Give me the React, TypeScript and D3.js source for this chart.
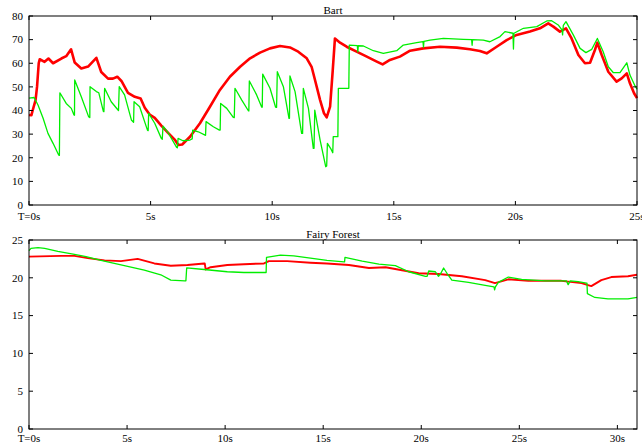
import { scaleLinear, line } from 'd3'

// [seconds, value] pairs
const bartRed: [number, number][] = [
  [0, 38.1], [0.1, 38], [0.15, 40], [0.27, 44.4], [0.33, 50], [0.4, 60], [0.44, 61.7],
  [0.64, 60.6], [0.8, 62], [0.99, 60], [1.33, 62], [1.53, 63], [1.73, 65.9], [1.88, 60.3],
  [2.15, 57.8], [2.43, 58.6], [2.77, 62.3], [2.97, 56.3], [3.25, 53.5], [3.45, 53.5],
  [3.63, 54.3], [3.8, 52.5], [4.07, 47.5], [4.35, 45.8], [4.59, 45.1], [4.76, 41.2],
  [4.96, 38.3], [5.17, 36.9], [5.44, 33.6], [5.72, 30.5], [5.99, 27.7], [6.14, 25.4],
  [6.3, 25.6], [6.62, 28.9], [7.03, 34.6], [7.44, 41.6], [7.85, 48.7], [8.26, 54.3],
  [8.68, 58.5], [9.09, 62.1], [9.5, 64.5], [9.91, 66.3], [10.32, 67.3], [10.73, 66.7],
  [11.07, 64.9], [11.42, 62.1], [11.62, 58.5], [11.76, 52.9], [11.97, 44.4], [12.13, 38.8],
  [12.24, 37.1], [12.38, 41.6], [12.49, 57.1], [12.58, 70.5], [12.79, 68.7], [13.06, 67],
  [13.47, 64.9], [13.89, 62.8], [14.3, 60.7], [14.54, 59.5], [14.84, 61.4], [15.25, 62.8],
  [15.67, 65.3], [16.21, 66.3], [16.9, 67], [17.59, 66.6], [18.13, 65.9], [18.54, 65.2],
  [18.82, 64.2], [19.23, 67], [19.64, 69.8], [20.05, 72], [20.6, 73.4], [21.01, 74.8],
  [21.35, 76.9], [21.56, 75.5], [21.83, 73.4], [22.08, 74.8], [22.31, 70.5], [22.59, 63.5],
  [22.86, 60], [23.07, 60.2], [23.27, 65.6], [23.37, 68.7], [23.55, 63.5], [23.82, 56.4],
  [24.16, 52.2], [24.37, 53.6], [24.58, 55.7], [24.71, 51.5], [24.88, 47.3], [25, 45.2],
]

const bartGreen: [number, number][] = [
  [0, 45.2], [0.21, 45.5], [0.37, 42.3], [0.58, 36.7], [0.78, 30.3], [0.99, 26.1],
  [1.22, 21.2], [1.25, 21], [1.27, 47.5], [1.53, 43], [1.74, 40.9], [1.85, 38.1],
  [1.87, 38], [1.88, 52.9], [2.15, 45.8], [2.45, 37.4], [2.5, 37], [2.51, 50.1],
  [2.77, 48], [2.87, 47.5], [3.06, 39.5], [3.08, 39.5], [3.11, 49.4], [3.38, 43.7],
  [3.66, 40.2], [3.68, 40], [3.71, 50.1], [3.93, 46.6], [4.21, 36], [4.3, 35],
  [4.32, 43.7], [4.55, 41.6], [4.87, 31.7], [4.9, 31.5], [4.92, 38.8], [5.17, 34.6],
  [5.44, 28.2], [5.48, 27.8], [5.51, 33.4], [5.72, 30.6], [6.07, 24.4], [6.1, 24.2],
  [6.13, 28.2], [6.33, 27.2], [6.62, 27.5], [6.71, 28], [6.73, 31.7], [6.96, 31],
  [7.24, 29.6], [7.26, 29.5], [7.28, 35.3], [7.58, 33.1], [7.83, 31.7], [7.86, 31.7],
  [7.88, 43], [8.13, 40.9], [8.4, 37.1], [8.44, 37], [8.47, 49.4], [8.75, 44.4],
  [9.02, 39.9], [9.04, 39.8], [9.06, 52.5], [9.36, 46.6], [9.57, 41.4], [9.59, 41.4],
  [9.61, 55.4], [9.91, 49.4], [10.14, 41.4], [10.18, 41.3], [10.21, 56.4], [10.46, 50.1],
  [10.69, 36.7], [10.71, 36.7], [10.73, 54.6], [10.94, 48], [11.21, 30.3], [11.25, 30.3],
  [11.28, 49.4], [11.49, 40.9], [11.69, 24], [11.72, 24], [11.75, 40.2], [11.97, 27.5],
  [12.2, 16.2], [12.24, 16.5], [12.27, 26.1], [12.4, 24], [12.49, 22.1], [12.51, 28.9],
  [12.7, 28.9], [12.72, 49.4], [13.15, 49.4], [13.17, 67.7], [13.5, 67.5], [13.52, 64.8],
  [13.54, 67.4], [13.75, 67.3], [14.16, 65.3], [14.57, 64.2], [15.12, 65.3], [15.39, 67.7],
  [15.94, 68.7], [16.2, 69.2], [16.22, 66.8], [16.24, 69.3], [16.49, 69.8], [17.04, 70.5],
  [17.86, 70.1], [18.2, 70], [18.22, 67.6], [18.24, 70], [18.68, 69.8], [18.95, 69.1],
  [19.37, 71.3], [19.57, 73.4], [19.9, 72.7], [19.92, 66], [19.94, 72.7], [20.33, 74.8],
  [20.88, 75.5], [21.29, 77.9], [21.49, 78], [21.76, 76.2], [21.92, 74], [21.94, 72],
  [21.97, 76], [22.08, 77.6], [22.38, 72], [22.66, 66.3], [22.9, 64.5], [23.14, 65.9],
  [23.37, 70.5], [23.61, 64.9], [23.82, 58.5], [24.03, 56], [24.3, 56], [24.58, 60.2],
  [24.71, 55], [24.92, 50.4], [25, 49],
]

const fairyRed: [number, number][] = [
  [0, 22.8], [1.64, 22.9], [2.32, 22.9], [3.0, 22.6], [3.85, 22.3], [4.69, 22.2],
  [5.54, 22.5], [6.39, 21.9], [7.23, 21.6], [8.08, 21.7], [8.93, 21.9], [8.96, 21.9],
  [9.01, 21.1], [9.26, 21.4], [10.11, 21.7], [10.96, 21.8], [11.98, 21.9], [12.23, 22.2],
  [13.16, 22.2], [14.35, 22.0], [15.19, 21.9], [16.31, 21.7], [17.33, 21.3], [18.18, 21.4],
  [19.02, 21.0], [19.87, 20.6], [20.88, 20.5], [22.07, 20.2], [23.26, 19.7], [23.76, 19.3],
  [24.44, 19.8], [25.46, 19.6], [27.15, 19.6], [28.17, 19.3], [28.67, 18.9], [29.18, 19.7],
  [29.69, 20.1], [30.54, 20.2], [31, 20.4],
]

const fairyGreen: [number, number][] = [
  [0, 23.6], [0.1, 23.9], [0.46, 24.0], [0.8, 23.9], [1.47, 23.5], [2.32, 23.1],
  [2.91, 22.8], [3.67, 22.3], [4.35, 21.9], [5.03, 21.5], [5.88, 21.0], [6.72, 20.4],
  [7.23, 19.7], [7.94, 19.6], [8.0, 19.6], [8.04, 21.3], [8.93, 21.1], [10.11, 20.8],
  [10.96, 20.7], [12.06, 20.7], [12.09, 20.7], [12.11, 22.7], [12.82, 23.0], [13.5, 22.9],
  [14.35, 22.6], [15.19, 22.3], [16.06, 22.1], [16.09, 22.1], [16.11, 22.7], [16.99, 22.2],
  [17.84, 21.8], [18.68, 21.6], [19.36, 20.8], [20.21, 20.2], [20.3, 20.2], [20.38, 20.9],
  [20.72, 20.8], [20.88, 20.2], [21.0, 20.6], [21.14, 21.3], [21.31, 20.6], [21.56, 19.7],
  [22.41, 19.4], [23.26, 19.0], [23.71, 18.8], [23.74, 18.4], [23.78, 18.8], [23.93, 19.4],
  [24.44, 20.1], [25.12, 19.8], [26.31, 19.6], [27.15, 19.6], [27.4, 19.6], [27.49, 19.1],
  [27.6, 19.6], [28.0, 19.5], [28.42, 19.3], [28.45, 19.3], [28.47, 17.9], [28.85, 17.4],
  [29.52, 17.2], [30.54, 17.2], [31, 17.4],
]

const bartXTicks = [0, 5, 10, 15, 20, 25]
const bartYTicks = [0, 10, 20, 30, 40, 50, 60, 70, 80]
const fairyXTicks = [0, 5, 10, 15, 20, 25, 30]
const fairyYTicks = [0, 5, 10, 15, 20, 25]

const xLabel = (t: number) => (t === 0 ? 'T=0s' : `${t}s`)

const FONT = "'Liberation Serif', 'Times New Roman', serif"
const RED = '#ff0000'
const GREEN = '#00ee00'
const TICK = 4

type PanelProps = {
  title: string
  xMax: number
  yMax: number
  top: number
  bottom: number
  xTicks: number[]
  yTicks: number[]
  red: [number, number][]
  green: [number, number][]
  redWidth: number
  labelGap: number
}

const Panel = ({ title, xMax, yMax, top, bottom, xTicks, yTicks, red, green, redWidth, labelGap }: PanelProps) => {
  const left = 29
  const right = 637
  const x = scaleLinear().domain([0, xMax]).range([left, right])
  const y = scaleLinear().domain([0, yMax]).range([bottom, top])
  const path = line<[number, number]>()
    .x((d) => x(d[0]))
    .y((d) => y(d[1]))

  return (
    <g>
      <text x={(left + right) / 2} y={top - 2} fontFamily={FONT} fontSize={11} textAnchor="middle">
        {title}
      </text>
      <path d={path(red) ?? ''} fill="none" stroke={RED} strokeWidth={redWidth} strokeLinejoin="round" />
      <path d={path(green) ?? ''} fill="none" stroke={GREEN} strokeWidth={1.3} strokeLinejoin="round" />
      <rect x={left} y={top} width={right - left} height={bottom - top} fill="none" stroke="#000" strokeWidth={1} />
      {xTicks.map((t) => (
        <g key={'x' + t}>
          <line x1={x(t)} x2={x(t)} y1={bottom} y2={bottom - TICK} stroke="#000" />
          <line x1={x(t)} x2={x(t)} y1={top} y2={top + TICK} stroke="#000" />
          <text x={x(t)} y={bottom + labelGap} fontFamily={FONT} fontSize={11} textAnchor="middle">
            {xLabel(t)}
          </text>
        </g>
      ))}
      {yTicks.map((v) => (
        <g key={'y' + v}>
          <line x1={left} x2={left + TICK} y1={y(v)} y2={y(v)} stroke="#000" />
          <line x1={right} x2={right - TICK} y1={y(v)} y2={y(v)} stroke="#000" />
          <text x={23} y={y(v)} dy="0.35em" fontFamily={FONT} fontSize={11} textAnchor="end">
            {v}
          </text>
        </g>
      ))}
    </g>
  )
}

export default function App() {
  return (
    <svg
      width={642}
      height={444}
      style={{ position: 'absolute', left: 0, top: 0, background: '#fff' }}
    >
      <Panel
        title="Bart"
        xMax={25}
        yMax={80}
        top={16}
        bottom={205}
        xTicks={bartXTicks}
        yTicks={bartYTicks}
        red={bartRed}
        green={bartGreen}
        redWidth={2.6}
        labelGap={15}
      />
      <Panel
        title="Fairy Forest"
        xMax={31}
        yMax={25}
        top={240}
        bottom={429}
        xTicks={fairyXTicks}
        yTicks={fairyYTicks}
        red={fairyRed}
        green={fairyGreen}
        redWidth={1.9}
        labelGap={13}
      />
    </svg>
  )
}
